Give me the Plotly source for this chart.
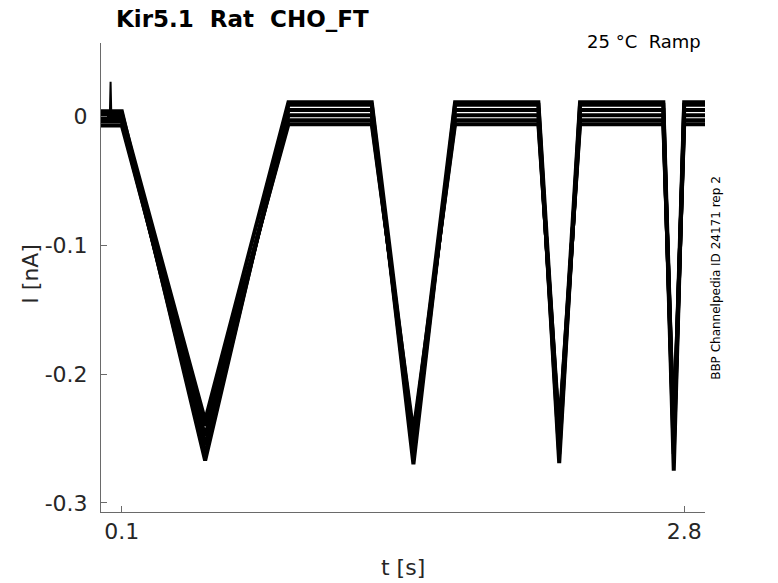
"""Kir5.1 Rat CHO_FT ramp recording: overlaid current sweeps"""

import plotly.graph_objects as go

# breakpoints of the ramp protocol (s)
t_points = [0.0, 0.1, 0.5, 0.9, 1.3, 1.5, 1.7, 2.1, 2.2, 2.3, 2.7, 2.75, 2.8, 2.9]

# current at each breakpoint for every sweep (nA)
sweep_1 = [0.004, 0.004, -0.267, 0.009, 0.009, -0.270, 0.009, 0.009, -0.269, 0.009, 0.009, -0.275, 0.009, 0.009]
sweep_2 = [0.000, 0.000, -0.262, 0.005, 0.005, -0.262, 0.005, 0.005, -0.262, 0.005, 0.005, -0.262, 0.005, 0.005]
sweep_3 = [-0.004, -0.004, -0.255, 0.001, 0.001, -0.256, 0.001, 0.001, -0.255, 0.001, 0.001, -0.255, 0.001, 0.001]
sweep_4 = [-0.007, -0.007, -0.248, -0.003, -0.003, -0.250, -0.003, -0.003, -0.248, -0.003, -0.003, -0.250, -0.003, -0.003]
sweep_5 = [-0.002, -0.002, -0.240, -0.006, -0.006, -0.245, -0.006, -0.006, -0.242, -0.006, -0.006, -0.245, -0.006, -0.006]
sweep_6 = [0.002, 0.002, -0.236, 0.011, 0.011, -0.252, 0.011, 0.011, -0.250, 0.011, 0.011, -0.252, 0.011, 0.011]
sweeps = [sweep_1, sweep_2, sweep_3, sweep_4, sweep_5, sweep_6]

# short artefact at the start of one sweep
spike_t = [0.042, 0.046, 0.050]
spike_i = [-0.002, 0.027, -0.003]

x_ticks = [0.1, 2.8]
y_ticks = [0, -0.1, -0.2, -0.3]

fig = go.Figure()

for s in sweeps:
    fig.add_trace(
        go.Scatter(
            x=t_points, y=s, mode="lines",
            line={"color": "black", "width": 4}, showlegend=False,
        )
    )

fig.add_trace(
    go.Scatter(
        x=spike_t, y=spike_i, mode="lines",
        line={"color": "black", "width": 2}, showlegend=False,
    )
)

axis_common = dict(
    showline=True, linecolor="#6a6a6a", linewidth=1,
    ticks="inside", ticklen=6, tickcolor="#6a6a6a",
    showgrid=False, zeroline=False, mirror=False,
    tickfont={"size": 22, "color": "#262626"},
)

# page body adds 8 px, so the figure is a bit smaller than the window
fig.update_layout(
    width=770, height=575,
    margin={"l": 93, "r": 73, "t": 35, "b": 71},
    paper_bgcolor="white", plot_bgcolor="white",
    font={"family": "DejaVu Sans", "color": "#262626"},
    xaxis=dict(range=[0.0, 2.9], tickvals=x_ticks, ticktext=["0.1", "2.8"], **axis_common),
    yaxis=dict(range=[-0.307, 0.057], tickvals=y_ticks, ticktext=["0", "-0.1", "-0.2", "-0.3"],
               ticklabelstandoff=8, **axis_common),
)

# titles and labels
fig.add_annotation(text="<b>Kir5.1\u00a0\u00a0Rat\u00a0\u00a0CHO_FT</b>", xref="paper", yref="paper",
                   x=0.235, y=1.052, xanchor="center", yanchor="middle",
                   showarrow=False, font={"size": 23, "color": "black"})
fig.add_annotation(text="25 °C\u00a0\u00a0Ramp", xref="paper", yref="paper",
                   x=0.997, y=1.004, xanchor="right", yanchor="middle",
                   showarrow=False, font={"size": 18, "color": "black"})
fig.add_annotation(text="BBP Channelpedia ID 24171 rep 2", xref="paper", yref="paper",
                   x=1.018, y=0.499, xanchor="center", yanchor="middle", textangle=-90,
                   showarrow=False, font={"size": 12, "color": "black"})
fig.add_annotation(text="I [nA]", xref="paper", yref="paper",
                   x=-0.116, y=0.508, xanchor="center", yanchor="middle", textangle=-90,
                   showarrow=False, font={"size": 22})
fig.add_annotation(text="t [s]", xref="paper", yref="paper",
                   x=0.5, y=-0.119, xanchor="center", yanchor="middle",
                   showarrow=False, font={"size": 22})

fig.write_html("out.html")
